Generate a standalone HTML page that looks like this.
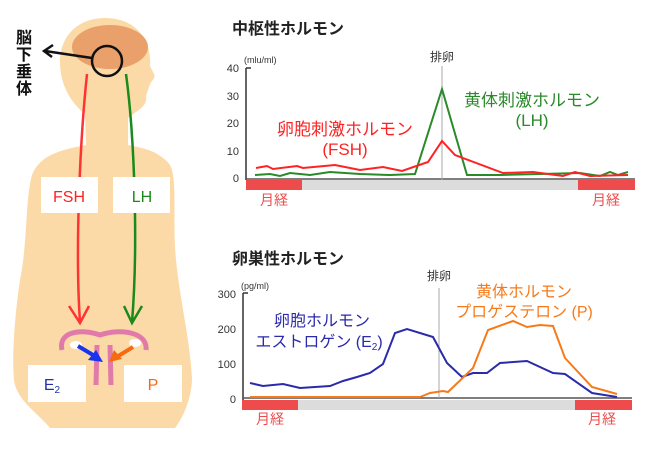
<!DOCTYPE html>
<html><head><meta charset="utf-8"><style>
body{margin:0;background:#fff}
svg{display:block}
text{font-family:"Liberation Sans","Noto Sans CJK JP",sans-serif}
</style></head><body>
<svg width="647" height="463" viewBox="0 0 647 463">
<rect width="647" height="463" fill="#fff"/>
<!-- body silhouette -->
<path d="M105,18 C78,18 60,36 60,62 C60,84 70,102 85,114 L86,145 C60,150 40,155 32,175 C25,200 28,240 20,280 C14,320 12,360 14,380 C16,400 40,415 50,428 L175,428 C185,415 192,395 192,378 C190,340 180,300 176,260 C172,220 178,180 170,165 C160,152 145,148 128,145 L128,118 C138,110 148,106 146,96 L150,84 C152,80 156,78 154,74 L150,66 C152,40 136,18 105,18 Z" fill="#fcdaa8"/>
<ellipse cx="110" cy="47" rx="38" ry="22" fill="#e9a06a"/>
<circle cx="107" cy="61" r="15" fill="none" stroke="#111" stroke-width="2.5"/>
<line x1="92" y1="58" x2="45" y2="51" stroke="#111" stroke-width="2.5"/>
<polyline points="53,45 44,51 52,57" fill="none" stroke="#111" stroke-width="2.5"/>
<text font-size="16" font-weight="bold" fill="#111"><tspan x="16" y="43">脳</tspan><tspan x="16" y="60">下</tspan><tspan x="16" y="77">垂</tspan><tspan x="16" y="94">体</tspan></text>
<!-- hormone arrows -->
<path d="M87,74 C80,140 75,250 80,322" fill="none" stroke="#f33" stroke-width="2.5"/>
<polyline points="69,306 80,323 89,306" fill="none" stroke="#f33" stroke-width="2.5"/>
<path d="M126,74 C135,140 138,250 132,322" fill="none" stroke="#1a8a1a" stroke-width="2.5"/>
<polyline points="124,306 132,323 142,306" fill="none" stroke="#1a8a1a" stroke-width="2.5"/>
<rect x="41" y="177" width="57" height="36" fill="#fff"/>
<rect x="113" y="177" width="57" height="36" fill="#fff"/>
<text x="69" y="202" font-size="16" fill="#f22" text-anchor="middle">FSH</text>
<text x="142" y="202" font-size="16" fill="#1a8a1a" text-anchor="middle">LH</text>
<!-- uterus -->
<path d="M62,350 C58,332 80,328 100,335 C120,328 148,332 146,350" fill="none" stroke="#e07aa8" stroke-width="5"/>
<ellipse cx="76" cy="345" rx="6" ry="4" fill="#fff"/>
<ellipse cx="135" cy="343" rx="6" ry="4" fill="#fff"/>
<path d="M97,345 L96,385 M110,345 L111,385" stroke="#e07aa8" stroke-width="5"/>
<line x1="78" y1="346" x2="98" y2="358" stroke="#1a33ee" stroke-width="4"/>
<polygon points="103,362 88,360 96,350" fill="#1a33ee"/>
<line x1="133" y1="347" x2="115" y2="358" stroke="#f76a10" stroke-width="4"/>
<polygon points="109,362 114,350 122,359" fill="#f76a10"/>
<rect x="28" y="365" width="58" height="37" fill="#fff"/>
<rect x="124" y="365" width="58" height="37" fill="#fff"/>
<text x="52" y="390" font-size="16" fill="#2233aa" text-anchor="middle">E<tspan font-size="10" dy="3">2</tspan></text>
<text x="153" y="390" font-size="16" fill="#f76a10" text-anchor="middle">P</text>

<!-- chart 1 -->
<text x="232" y="34" font-size="16" font-weight="bold" fill="#222">中枢性ホルモン</text>
<text x="244" y="63" font-size="9" fill="#333">(mlu/ml)</text>
<g font-size="11" fill="#333" text-anchor="end">
<text x="239" y="72">40</text><text x="239" y="100">30</text><text x="239" y="127">20</text><text x="239" y="155">10</text><text x="239" y="182">0</text></g>
<line x1="246" y1="68" x2="246" y2="180" stroke="#333" stroke-width="1.5"/>
<line x1="246" y1="68" x2="251" y2="68" stroke="#333" stroke-width="1.5"/>
<line x1="246" y1="179" x2="635" y2="179" stroke="#555" stroke-width="1.5"/>
<line x1="442" y1="66" x2="442" y2="180" stroke="#aaa" stroke-width="1"/>
<text x="442" y="61" font-size="12" fill="#333" text-anchor="middle">排卵</text>
<rect x="246" y="180" width="56" height="10" fill="#ee4c4c"/>
<rect x="302" y="180" width="276" height="10" fill="#dcdcdc"/>
<rect x="578" y="180" width="57" height="10" fill="#ee4c4c"/>
<text x="260" y="205" font-size="14" fill="#ee4c4c">月経</text>
<text x="592" y="205" font-size="14" fill="#ee4c4c">月経</text>
<polyline fill="none" stroke="#2a8a2a" stroke-width="2" points="255,175 270,174 280,176 290,173 310,175 330,172 360,174 390,175 415,174 442,89 467,175 500,175 540,174 580,173 600,176 610,172 618,175 628,172"/>
<polyline fill="none" stroke="#f22" stroke-width="2" points="256,168 267,166 273,169 297,166 303,168 335,165 360,170 383,167 402,171 428,162 442,141 455,155 503,173 533,172 563,176 575,172 590,176 628,175"/>
<text x="345" y="135" font-size="17" fill="#f22" text-anchor="middle">卵胞刺激ホルモン</text>
<text x="345" y="155" font-size="17" fill="#f22" text-anchor="middle">(FSH)</text>
<text x="532" y="106" font-size="17" fill="#2a8a2a" text-anchor="middle">黄体刺激ホルモン</text>
<text x="532" y="126" font-size="17" fill="#2a8a2a" text-anchor="middle">(LH)</text>

<!-- chart 2 -->
<text x="232" y="264" font-size="16" font-weight="bold" fill="#222">卵巣性ホルモン</text>
<text x="241" y="289" font-size="9" fill="#333">(pg/ml)</text>
<g font-size="11" fill="#333" text-anchor="end">
<text x="236" y="298">300</text><text x="236" y="333">200</text><text x="236" y="368">100</text><text x="236" y="403">0</text></g>
<line x1="243" y1="293" x2="243" y2="400" stroke="#333" stroke-width="1.5"/>
<line x1="243" y1="293" x2="248" y2="293" stroke="#333" stroke-width="1.5"/>
<line x1="243" y1="398" x2="632" y2="398" stroke="#555" stroke-width="1.5"/>
<line x1="439" y1="288" x2="439" y2="398" stroke="#aaa" stroke-width="1"/>
<text x="439" y="280" font-size="12" fill="#333" text-anchor="middle">排卵</text>
<rect x="242" y="400" width="56" height="10" fill="#ee4c4c"/>
<rect x="298" y="400" width="277" height="10" fill="#dcdcdc"/>
<rect x="575" y="400" width="57" height="10" fill="#ee4c4c"/>
<text x="256" y="424" font-size="14" fill="#ee4c4c">月経</text>
<text x="588" y="424" font-size="14" fill="#ee4c4c">月経</text>
<polyline fill="none" stroke="#2a2aaa" stroke-width="2" points="250,383 263,386 283,384 300,388 330,386 343,381 357,377 370,373 383,364 395,333 407,329 433,337 447,363 462,377 473,373 487,373 500,363 527,361 553,373 565,374 592,393 617,397"/>
<polyline fill="none" stroke="#f77a1a" stroke-width="2" points="250,397 420,397 430,393 443,391 448,392 473,368 488,330 513,321 527,327 540,325 553,326 565,358 592,387 617,394"/>
<text x="322" y="326" font-size="16" fill="#2a2aaa" text-anchor="middle">卵胞ホルモン</text>
<text x="319" y="347" font-size="16" fill="#2a2aaa" text-anchor="middle">エストロゲン (E<tspan font-size="10" dy="3">2</tspan><tspan dy="-3">)</tspan></text>
<text x="524" y="297" font-size="16" fill="#f77a1a" text-anchor="middle">黄体ホルモン</text>
<text x="524" y="317" font-size="16" fill="#f77a1a" text-anchor="middle">プロゲステロン (P)</text>
</svg>
</body></html>
